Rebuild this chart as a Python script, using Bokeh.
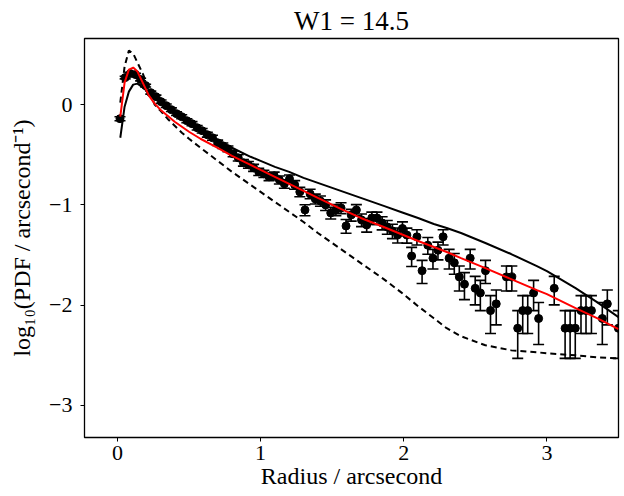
from bokeh.plotting import figure
from bokeh.models import ColumnDataSource, Whisker, TeeHead, FixedTicker, Range1d
from bokeh.embed import file_html
from bokeh.resources import INLINE

# ---- data points (radius, log10 PDF) with asymmetric error bars ----
radius = [0.018, 0.054, 0.090, 0.126, 0.162, 0.197, 0.233, 0.269, 0.305, 0.341,
          0.377, 0.413, 0.449, 0.485, 0.521, 0.557, 0.592, 0.628, 0.664, 0.700,
          0.736, 0.772, 0.808, 0.844, 0.880, 0.915,
          0.951, 0.987, 1.023, 1.059, 1.095, 1.131, 1.166, 1.202, 1.238, 1.274,
          1.310, 1.346, 1.382, 1.418, 1.454, 1.490, 1.526, 1.562, 1.597, 1.633,
          1.669, 1.705, 1.741, 1.777, 1.813, 1.849, 1.885, 1.921, 1.957,
          1.991, 2.022, 2.055, 2.092, 2.128, 2.168, 2.204, 2.239, 2.275, 2.317,
          2.353, 2.388, 2.424, 2.464, 2.499, 2.535, 2.571, 2.606, 2.646, 2.717,
          2.755, 2.796, 2.831, 2.866, 2.907, 2.942, 3.051, 3.127, 3.162, 3.198,
          3.238, 3.273, 3.311, 3.387, 3.422, 3.499]
logpdf = [-0.14, 0.27, 0.31, 0.30, 0.25, 0.19, 0.12, 0.08, 0.03, -0.01,
          -0.05, -0.09, -0.12, -0.16, -0.19, -0.23, -0.26, -0.30, -0.33, -0.38,
          -0.41, -0.44, -0.49, -0.53, -0.58, -0.60,
          -0.63, -0.67, -0.69, -0.72, -0.71, -0.75, -0.79, -0.74, -0.80, -0.87,
          -1.05, -0.89, -0.94, -0.96, -1.00, -1.08, -1.05, -1.03, -1.21, -1.10,
          -1.05, -1.15, -1.20, -1.13, -1.13, -1.18, -1.22, -1.26, -1.30,
          -1.235, -1.301, -1.510, -1.318, -1.656, -1.402, -1.531, -1.452, -1.318, -1.531,
          -1.577, -1.718, -1.791, -1.531, -1.832, -1.878, -1.656, -2.054, -1.987, -1.718,
          -1.718, -2.230, -2.054, -2.054, -1.878, -2.133, -1.832, -2.230, -2.230, -2.230,
          -2.054, -2.054, -2.054, -2.133, -1.987, -2.230]
err_up = [0.020, 0.013, 0.012, 0.012, 0.013, 0.014, 0.015, 0.015, 0.016, 0.017,
          0.018, 0.018, 0.019, 0.020, 0.021, 0.022, 0.022, 0.024, 0.025, 0.026,
          0.027, 0.028, 0.029, 0.031, 0.032, 0.033,
          0.034, 0.035, 0.036, 0.037, 0.037, 0.039, 0.041, 0.039, 0.042, 0.045,
          0.052, 0.046, 0.048, 0.049, 0.050, 0.055, 0.053, 0.052, 0.064, 0.056,
          0.053, 0.060, 0.063, 0.058, 0.058, 0.062, 0.064, 0.067, 0.070,
          0.066, 0.070, 0.086, 0.071, 0.103, 0.077, 0.088, 0.081, 0.071, 0.088,
          0.092, 0.108, 0.116, 0.088, 0.119, 0.125, 0.103, 0.149, 0.138, 0.108,
          0.108, 0.176, 0.149, 0.149, 0.125, 0.160, 0.119, 0.176, 0.176, 0.176,
          0.149, 0.149, 0.149, 0.160, 0.138, 0.176]
err_dn = [0.020, 0.013, 0.012, 0.012, 0.013, 0.014, 0.015, 0.015, 0.016, 0.017,
          0.018, 0.018, 0.019, 0.020, 0.021, 0.022, 0.022, 0.024, 0.025, 0.026,
          0.027, 0.028, 0.030, 0.032, 0.033, 0.034,
          0.035, 0.036, 0.037, 0.038, 0.038, 0.041, 0.043, 0.041, 0.044, 0.048,
          0.058, 0.049, 0.051, 0.053, 0.055, 0.060, 0.058, 0.057, 0.072, 0.062,
          0.058, 0.067, 0.071, 0.065, 0.065, 0.069, 0.072, 0.076, 0.080,
          0.075, 0.080, 0.105, 0.082, 0.128, 0.090, 0.108, 0.096, 0.082, 0.108,
          0.115, 0.140, 0.154, 0.108, 0.165, 0.176, 0.128, 0.228, 0.210, 0.140,
          0.140, 0.301, 0.228, 0.228, 0.176, 0.259, 0.165, 0.301, 0.301, 0.301,
          0.228, 0.228, 0.228, 0.259, 0.210, 0.301]

# ---- model curves ----
curve_r = [0.02, 0.05, 0.08, 0.11, 0.14, 0.18, 0.22, 0.26, 0.30, 0.35,
           0.40, 0.45, 0.50, 0.58, 0.70, 0.80, 0.93, 1.00, 1.10, 1.20,
           1.30, 1.40, 1.56, 1.70, 1.86, 1.98, 2.10, 2.21, 2.30, 2.40,
           2.57, 2.75, 2.93, 3.00, 3.20, 3.35, 3.50]
model_solid = [-0.33, -0.02, 0.13, 0.20, 0.21, 0.17, 0.12, 0.07, 0.03, -0.03,
               -0.08, -0.13, -0.18, -0.25, -0.35, -0.43, -0.52, -0.56, -0.62, -0.67,
               -0.73, -0.78, -0.86, -0.93, -1.01, -1.07, -1.13, -1.19, -1.23, -1.28,
               -1.38, -1.49, -1.61, -1.66, -1.83, -1.97, -2.12]
model_dashed = [0.02, 0.38, 0.54, 0.51, 0.42, 0.30, 0.15, 0.00, -0.06, -0.14,
                -0.21, -0.28, -0.34, -0.43, -0.56, -0.67, -0.80, -0.87, -0.97, -1.07,
                -1.17, -1.28, -1.44, -1.58, -1.74, -1.87, -2.01, -2.13, -2.23, -2.31,
                -2.40, -2.45, -2.47, -2.48, -2.50, -2.52, -2.53]
model_fit = [-0.12, 0.22, 0.35, 0.37, 0.33, 0.21, 0.09, 0.01, -0.05, -0.11,
             -0.17, -0.22, -0.27, -0.34, -0.43, -0.51, -0.60, -0.65, -0.72, -0.79,
             -0.86, -0.93, -1.04, -1.13, -1.22, -1.29, -1.36, -1.42, -1.47, -1.53,
             -1.63, -1.74, -1.85, -1.89, -2.03, -2.13, -2.24]

x_ticks = [0, 1, 2, 3]
y_ticks = [-3, -2, -1, 0]
y_tick_labels = {-3: "\u22123", -2: "\u22122", -1: "\u22121", 0: "0"}
title_text = "W1 = 14.5"
x_label = "Radius / arcsecond"
y_label = "log\u2081\u2080(PDF / arcsecond\u207b\u00b9)"

FONT = "Liberation Serif"

p = figure(width=622, height=496, output_backend="svg", toolbar_location=None,
           x_range=Range1d(-0.23, 3.50), y_range=Range1d(-3.32, 0.66),
           min_border_left=84, min_border_right=4, min_border_top=35,
           min_border_bottom=59)
p.title.text = title_text
p.title.text_font = FONT
p.title.text_font_size = "27px"
p.title.text_font_style = "normal"
p.title.text_color = "black"
p.title.align = "center"
p.title.standoff = 6

p.xgrid.visible = False
p.ygrid.visible = False
p.outline_line_color = "black"
p.outline_line_width = 1.3
p.outline_line_alpha = 1.0
p.background_fill_color = "white"
p.border_fill_color = "white"

for ax in (p.xaxis[0], p.yaxis[0]):
    ax.axis_line_color = None
    ax.major_tick_line_color = "black"
    ax.major_tick_line_width = 1
    ax.major_tick_out = 4
    ax.major_tick_in = 0
    ax.minor_tick_line_color = None
    ax.major_label_text_font = FONT
    ax.major_label_text_font_size = "22px"
    ax.axis_label_text_font = FONT
    ax.axis_label_text_font_size = "24px"
    ax.axis_label_text_font_style = "normal"
    ax.major_label_text_color = "black"
    ax.axis_label_text_color = "black"

p.xaxis.ticker = FixedTicker(ticks=x_ticks)
p.yaxis.ticker = FixedTicker(ticks=y_ticks)
p.yaxis.major_label_overrides = y_tick_labels
p.xaxis.axis_label = x_label
p.yaxis.axis_label = y_label
p.xaxis.major_label_standoff = 4
p.xaxis.axis_label_standoff = 0
p.yaxis.major_label_standoff = 8
p.yaxis.axis_label_standoff = 11

# model curves
p.line(curve_r, model_solid, line_color="black", line_width=2)
p.line(curve_r, model_dashed, line_color="black", line_width=2, line_dash="6 4")

# data with error bars
lower = [v - d for v, d in zip(logpdf, err_dn)]
upper = [v + u for v, u in zip(logpdf, err_up)]
src = ColumnDataSource(dict(x=radius, y=logpdf, lower=lower, upper=upper))
wh = Whisker(source=src, base="x", lower="lower", upper="upper", dimension="height",
             line_color="black", line_width=1.6,
             upper_head=TeeHead(size=11, line_color="black", line_width=1.6),
             lower_head=TeeHead(size=11, line_color="black", line_width=1.6))
p.add_layout(wh)
p.scatter("x", "y", source=src, size=8, fill_color="black", line_color="black")

# fitted model
p.line(curve_r, model_fit, line_color="red", line_width=2)

open("out.html", "w").write(file_html(p, INLINE))
